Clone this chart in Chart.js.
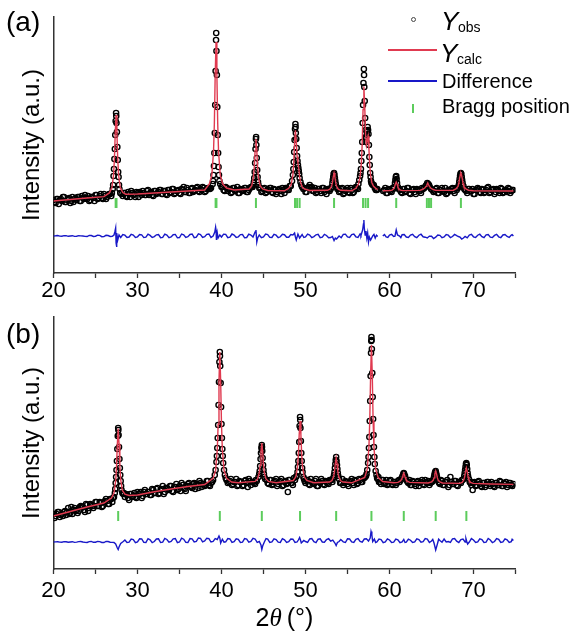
<!DOCTYPE html>
<html>
<head>
<meta charset="utf-8">
<script src="https://cdn.jsdelivr.net/npm/chart.js@4.4.1/dist/chart.umd.min.js"></script>
<style>
  html, body { margin: 0; padding: 0; background: #fff; }
  #wrap { position: relative; width: 580px; height: 632px; overflow: hidden;
          font-family: "Liberation Sans", Arial, Helvetica, sans-serif; color: #000; }
  canvas { position: absolute; left: 0; }
  #chartA { top: 0; }
  #chartB { top: 300px; }
  .t { position: absolute; white-space: nowrap; line-height: 1; }
  .mk { position: absolute; }
</style>
</head>
<body>
<div id="wrap">
  <canvas id="chartA" width="580" height="300"></canvas>
  <canvas id="chartB" width="580" height="332"></canvas>

  <div class="t" style="left:6px;top:8px;font-size:28px;">(a)</div>
  <div class="t" style="left:6px;top:320px;font-size:28px;">(b)</div>

  <!-- legend -->
  <div class="mk" style="left:411px;top:17px;width:5px;height:5px;box-sizing:border-box;border:1px solid #444;border-radius:50%;"></div>
  <div class="t" style="left:441px;top:8px;font-size:26px;font-style:italic;">Y</div>
  <div class="t" style="left:458px;top:20px;font-size:14px;">obs</div>

  <div class="mk" style="left:388px;top:49px;width:49px;height:1.5px;background:#e03a50;"></div>
  <div class="t" style="left:440px;top:40px;font-size:26px;font-style:italic;">Y</div>
  <div class="t" style="left:457px;top:51.5px;font-size:14px;">calc</div>

  <div class="mk" style="left:388px;top:80px;width:49px;height:1.5px;background:#1818c8;"></div>
  <div class="t" style="left:442px;top:71px;font-size:20px;">Difference</div>

  <div class="mk" style="left:412px;top:104px;width:2px;height:9px;background:#5ccc5c;"></div>
  <div class="t" style="left:442px;top:96px;font-size:20px;">Bragg position</div>

  <div class="t" style="left:0;width:569px;text-align:center;top:605px;font-size:25px;">2<i style="font-family:'Liberation Serif','DejaVu Serif',serif;">θ</i>&thinsp;(°)</div>
</div>

<script>
// ---- panel (a) ----
const obsA = [
  [20,73],[20.25,70],[20.5,74],[20.75,73],[21,72],[21.25,76],[21.5,71],[21.75,74],[22,70],[22.25,76],[22.5,74],[22.75,73],
  [23,76],[23.25,72],[23.5,75],[23.75,78],[24,74],[24.25,72],[24.5,76],[24.75,75],[25,78],[25.25,74],[25.5,77],[25.75,75],
  [26,79],[26.25,74],[26.5,78],[26.75,79],
  [26.95,80],[27.05,84],[27.1,88],[27.15,97],[27.2,104],[27.25,114],[27.3,124],[27.35,138],[27.4,152],[27.45,160],[27.47,157],
  [27.5,150],[27.55,141],[27.6,126],[27.65,113],[27.7,101],[27.75,96],[27.8,88],[27.85,84],[27.95,80],
  [28.1,79],[28.25,77],[28.5,80],[28.75,76],[29,79],[29.25,82],[29.5,78],[29.75,76],[30,80],[30.25,81],[30.5,78],[30.75,80],
  [31,78],[31.25,83],[31.5,80],[31.75,78],[32,82],[32.25,79],[32.5,81],[32.75,83],[33,79],[33.25,82],[33.5,78],[33.75,83],
  [34,81],[34.25,84],[34.5,80],[34.75,82],[35,80],[35.25,84],[35.5,86],[35.75,81],[36,83],[36.25,80],[36.5,85],[36.75,82],
  [37,85],[37.25,82],[37.5,84],[37.75,86],[38,81],[38.25,84],[38.5,85],[38.75,85],
  [38.95,89],[39,92],[39.05,98],[39.1,107],[39.15,120],[39.2,140],[39.25,168],[39.3,202],[39.35,233],[39.37,240],[39.4,222],
  [39.45,198],[39.5,166],[39.55,138],[39.6,120],[39.65,106],[39.7,98],[39.75,92],[39.85,89],
  [40,86],[40.25,83],[40.5,86],[40.75,82],[41,84],[41.25,81],[41.5,85],[41.75,83],[42,80],[42.25,84],[42.5,82],[42.75,85],
  [43,81],[43.25,83],[43.5,86],
  [43.7,86],[43.8,88],[43.85,91],[43.9,95],[43.95,101],[44,110],[44.05,124],[44.1,134],[44.12,136],[44.15,128],[44.2,115],
  [44.25,103],[44.3,96],[44.35,91],[44.4,88],[44.5,85],
  [44.75,81],[45,84],[45.25,80],[45.5,83],[45.75,85],[46,81],[46.25,84],[46.5,79],[46.75,83],[47,82],[47.25,85],[47.5,80],
  [47.75,84],[48,83],[48.25,87],
  [48.4,92],[48.5,98],[48.55,104],[48.6,111],[48.65,121],[48.7,133],[48.75,144],[48.8,149],[48.82,146],[48.85,140],[48.9,134],
  [48.95,125],[49,117],[49.05,112],[49.1,108],[49.15,105],[49.2,102],[49.25,99],[49.3,95],[49.4,91],[49.5,88],[49.6,86],
  [49.75,84],[50,81],[50.25,85],[50.5,88],[50.75,86],[51,82],[51.25,80],[51.5,84],[51.75,82],[52,85],[52.25,81],[52.5,79],[52.75,83],
  [53,84],[53.1,86],[53.2,90],[53.25,93],[53.3,96],[53.35,99],[53.4,100],[53.45,98],[53.5,95],[53.55,92],[53.6,89],[53.7,86],[53.8,84],
  [54,81],[54.25,84],[54.5,79],[54.75,82],[55,85],[55.25,80],[55.5,83],[55.75,81],[56,86],[56.25,84],
  [56.4,93],[56.5,97],[56.55,100],[56.6,104],[56.65,112],[56.7,120],[56.75,131],[56.8,150],[56.85,168],[56.9,190],[56.95,204],
  [56.97,198],[57,186],[57.05,172],[57.1,155],[57.15,143],[57.2,136],[57.25,131],[57.3,138],[57.35,142],[57.4,146],[57.45,143],
  [57.5,139],[57.55,128],[57.6,116],[57.65,108],[57.7,100],[57.75,96],[57.8,92],[57.85,90],
  [58,88],[58.25,85],[58.5,83],
  [59.25,82],[59.5,85],[59.75,80],[60,83],[60.25,81],
  [60.45,84],[60.55,86],[60.65,90],[60.7,93],[60.75,96],[60.8,97],[60.85,94],[60.9,90],[61,86],[61.1,84],
  [61.25,83],[61.5,80],[61.75,84],[62,82],[62.25,85],[62.5,79],[62.75,83],[63,81],[63.25,84],[63.5,82],[63.75,80],
  [64,84],[64.15,85],[64.3,87],[64.4,88],[64.5,90],[64.6,89],[64.7,88],[64.8,86],[64.95,84],[65.1,83],
  [65.25,81],[65.5,84],[65.75,80],[66,83],[66.25,85],[66.5,81],[66.75,79],[67,83],[67.25,82],[67.5,85],[67.75,80],[68,83],
  [68.15,85],[68.25,88],[68.3,91],[68.35,94],[68.4,97],[68.45,99],[68.5,100],[68.55,99],[68.6,96],[68.65,93],[68.7,90],[68.8,87],[68.9,84],
  [69,83],[69.25,80],[69.5,84],[69.75,82],[70,79],[70.25,83],[70.5,85],[70.75,81],[71,84],[71.25,80],[71.5,83],[71.75,86],
  [72,81],[72.25,83],[72.5,79],[72.75,84],[73,82],[73.25,85],[73.5,80],[73.75,83],[74,81],[74.25,84],[74.5,82],[74.75,83]
];

// in-between background readings of panel (a)
const obsA2 = [
  [20.125,71],[20.375,74],[20.625,69],[20.875,74],[21.125,76],[21.375,71],[21.625,73],[21.875,75],[22.125,72],[22.375,71],
  [22.625,75],[22.875,76],[23.125,72],[23.375,77],[23.625,74],[23.875,75],[24.125,77],[24.375,73],[24.625,76],[24.875,72],
  [25.125,78],[25.375,75],[25.625,79],[25.875,74],[26.125,77],[26.375,76],[26.625,79],[26.875,77],
  [28.375,80],[28.625,77],[28.875,81],[29.125,76],[29.375,80],[29.625,79],[29.875,81],[30.125,76],[30.375,80],[30.625,82],
  [30.875,78],[31.125,82],[31.375,78],[31.625,81],[31.875,77],[32.125,82],[32.375,80],[32.625,83],[32.875,79],[33.125,82],
  [33.375,79],[33.625,83],[33.875,80],[34.125,84],[34.375,79],[34.625,82],[34.875,83],[35.125,79],[35.375,83],[35.625,81],
  [35.875,85],[36.125,80],[36.375,84],[36.625,81],[36.875,83],[37.125,86],[37.375,81],[37.625,83],[37.875,85],[38.125,82],
  [38.375,85],[38.625,84],
  [40.125,86],[40.375,82],[40.625,85],[40.875,84],[41.125,80],[41.375,85],[41.625,82],[41.875,86],[42.125,80],[42.375,83],
  [42.625,83],[42.875,85],[43.125,81],[43.375,85],[43.625,86],
  [44.625,85],[44.875,82],[45.125,85],[45.375,81],[45.625,83],[45.875,85],[46.125,80],[46.375,83],[46.625,81],[46.875,84],
  [47.125,79],[47.375,83],[47.625,85],[47.875,83],[48.125,87],
  [49.875,85],[50.125,81],[50.375,86],[50.625,85],[50.875,82],[51.125,85],[51.375,81],[51.625,84],[51.875,80],[52.125,85],
  [52.375,83],[52.625,84],[52.875,82],
  [53.925,85],[54.125,82],[54.375,85],[54.625,80],[54.875,83],[55.125,81],[55.375,85],[55.625,80],[55.875,85],[56.125,85],[56.3,89],
  [57.925,89],[58.125,88],[58.375,83],[58.55,84],
  [59.375,83],[59.625,80],[59.875,84],[60.125,82],[60.375,85],
  [61.375,81],[61.625,84],[61.875,81],[62.125,85],[62.375,80],[62.625,83],[62.875,84],[63.125,79],[63.375,83],[63.625,82],[63.875,85],
  [65.375,82],[65.625,85],[65.875,80],[66.125,83],[66.375,82],[66.625,85],[66.875,80],[67.125,83],[67.375,84],[67.625,82],
  [67.875,85],[68.05,85],
  [69.125,82],[69.375,84],[69.625,82],[69.875,84],[70.125,79],[70.375,83],[70.625,84],[70.875,80],[71.125,83],[71.375,81],
  [71.625,85],[71.875,80],[72.125,83],[72.375,84],[72.625,81],[72.875,83],[73.125,80],[73.375,84],[73.625,81],[73.875,83],
  [74.125,85],[74.375,80],[74.625,83]
];

const calcA = [
  [20,72],[22,73.5],[24,75],[26,76.4],[26.65,80.1],[26.95,85.1],[27.15,98],[27.25,113.5],[27.35,140],[27.45,158],[27.55,140],
  [27.65,113.5],[27.75,98],[27.95,85.3],[28.25,80.5],[28.6,78.8],[30,79],[32,80],[34,81],[36,82],[38,83],
  [38.55,89],[38.85,97.8],[39.05,121.5],[39.15,149.6],[39.25,198.4],[39.35,231],[39.45,198.4],[39.55,149.6],[39.65,121.5],
  [39.85,97.8],[40.15,88.9],[40.6,85],[41.5,83],[43.3,84],[43.6,87.2],[43.8,95.5],[43.9,105.4],[44,122.6],[44.1,134],
  [44.2,122.6],[44.3,105.4],[44.4,95.5],[44.6,87.2],[44.9,84.1],[45.5,82.5],[47.5,82.2],
  [48,84.7],[48.3,88.5],[48.5,98.2],[48.6,109.7],[48.7,129.4],[48.8,142.8],[48.9,132],[49,116.5],[49.1,110],[49.2,104.3],
  [49.3,96.2],[49.4,91.3],[49.6,86],[49.9,84],[50.5,82.5],[52.6,82.7],[52.9,83.8],[53.1,86.7],[53.2,90.1],[53.3,96],
  [53.4,100],[53.5,96],[53.6,90.1],[53.7,86.7],[53.9,83.8],[54.2,82.7],[55.5,82.2],
  [56,84.7],[56.3,88.9],[56.5,96.2],[56.65,109.8],[56.75,129.3],[56.85,163.4],[56.95,186.5],[57.05,167.2],[57.15,138.7],
  [57.25,128.3],[57.35,133.1],[57.45,137],[57.55,124.1],[57.65,107.3],[57.75,97.7],[57.9,90.3],[58.1,86.7],[58.4,84.4],[58.6,83.5],
  [58.85,null],
  [59.2,82.3],[60,82.4],[60.3,82.9],[60.5,84.3],[60.6,86],[60.7,89],[60.8,91],[60.9,89],[61,86],[61.1,84.3],[61.3,82.9],[61.6,82.4],
  [63.6,82.6],[63.9,83.5],[64.2,85],[64.35,86.6],[64.45,88.2],[64.55,90],[64.65,88.2],[64.75,86.6],[64.9,85],[65.2,83.5],[65.5,82.6],
  [67.6,82.8],[67.9,84],[68.15,86.5],[68.25,89.5],[68.35,95],[68.45,99],[68.5,100],[68.55,99],[68.65,95],[68.75,89.5],
  [68.85,86.5],[69.1,84],[69.4,82.8],[70,82.3],[74.75,82]
];

const diffA = [
  [20,37],[20.5,37.5],[21,36.8],[21.5,37.3],[22,37],[22.5,36.6],[23,37.4],[23.5,37],[24,36.5],[24.5,37.5],[25,36.8],[25.5,37.6],
  [26,36.4],[26.5,37.5],[27,36.6],[27.2,38],[27.3,41],[27.4,45],[27.45,30],[27.5,26],[27.55,40],[27.65,33],[27.8,38],[28,35.5],
  [28.5,37.8],[29,36],[29.5,38],[30,36.2],[30.5,38.2],[31,35.8],[31.5,37.6],[32,36.4],[32.5,38.5],[33,35.6],[33.5,37.9],[34,36],
  [34.5,38.6],[35,35.5],[35.5,38.2],[36,36.3],[36.5,39],[37,35.8],[37.5,38.5],[38,36.4],[38.5,39],[39,37],[39.2,41],[39.3,46],
  [39.35,43],[39.4,33],[39.5,40],[39.6,35],[39.8,38],[40,36],[40.5,38.6],[41,35.8],[41.5,38],[42,36.2],[42.5,38.5],[43,35.5],
  [43.5,38],[44,41],[44.1,43],[44.2,31],[44.3,35],[44.5,38],[45,36],[45.5,38.4],[46,35.5],[46.5,37.8],[47,36.2],[47.5,38.3],
  [48,35.8],[48.5,38],[48.7,40],[48.8,36],[48.9,33],[49.1,39],[49.3,35],[49.6,38.5],[50,36],[50.5,38],[51,36.4],[51.5,38.6],
  [52,35.8],[52.5,37.5],[53,35.5],[53.4,32.5],[53.7,34],[54,37],[54.5,38.6],[55,36],[55.5,38.4],[56,36.2],[56.5,39],[56.8,43],
  [56.9,49],[56.95,53],[57,45],[57.1,38],[57.2,42],[57.3,35],[57.4,40],[57.5,31],[57.6,36],[57.75,33],[58,37],[58.3,35],[58.6,36.5],
  [58.85,null],
  [59.2,37],[59.6,36],[60,38],[60.5,36.5],[60.8,43],[60.95,38],[61.2,37],[61.5,38.3],[62,36],[62.5,38],[63,36.4],[63.5,37.8],
  [64,36.2],[64.5,35],[65,36.8],[65.5,35.8],[66,37.6],[66.5,36],[67,37.8],[67.5,36.5],[68,37.4],[68.4,35.8],[68.6,34],[68.8,35],
  [69,36.6],[69.5,38],[70,36.2],[70.5,37.8],[71,36.4],[71.5,38.2],[72,35.8],[72.5,37.6],[73,36.2],[73.5,38],[74,36.5],[74.5,37.9],[74.75,37]
];

// in-between difference readings of panel (a)
const diffA2 = [
  [20.25,37.2],[20.75,36.9],[21.25,37.4],[21.75,36.7],[22.25,37.3],[22.75,36.8],[23.25,37.1],[23.75,36.6],[24.25,37.6],[24.75,36.5],
  [25.25,37.8],[25.75,36.3],[26.25,37.7],[26.75,36.5],[28.25,38.5],[28.75,35.6],[29.25,38.6],[29.75,35.5],[30.25,38.4],[30.75,35.4],
  [31.25,38.8],[31.75,35.6],[32.25,38.2],[32.75,35.3],[33.25,38.9],[33.75,35.4],[34.25,38.3],[34.75,35.2],[35.25,39],[35.75,35.6],
  [36.25,38.5],[36.75,35.3],[37.25,39.2],[37.75,35.5],[38.25,38.7],[38.75,35.6],[40.25,38.8],[40.75,35.3],[41.25,39],[41.75,35.5],
  [42.25,38.4],[42.75,35.2],[43.25,38.8],[43.75,36],[44.75,35.4],[45.25,38.9],[45.75,35.6],[46.25,38.6],[46.75,35.3],[47.25,38.8],
  [47.75,35.7],[48.25,38.5],[49.8,35.5],[50.25,38.8],[50.75,35.4],[51.25,38.2],[51.75,35.3],[52.25,38.6],[52.75,35.2],[53.2,36.5],
  [53.55,35],[54.25,35.3],[54.75,38.8],[55.25,35.5],[55.75,38.9],[56.25,35.6],[56.6,37.5],[58.15,38.6],[58.45,37.8],[59.4,38.4],
  [59.8,35.6],[60.25,38.6],[60.65,36.8],[61.35,35.4],[61.75,38.5],[62.25,35.6],[62.75,38.7],[63.25,35.3],[63.75,38.8],[64.25,35.8],
  [64.75,36.9],[65.25,34.5],[65.75,37.9],[66.25,35.3],[66.75,38.5],[67.25,35.4],[67.75,38.6],[68.2,36.5],[69.25,35.2],[69.75,38.6],
  [70.25,35.5],[70.75,38.8],[71.25,35.3],[71.75,38.4],[72.25,35.6],[72.75,38.7],[73.25,35.4],[73.75,38.5],[74.25,35.6],[74.6,38.3]
];

const braggA = [27.4, 27.5, 39.3, 39.4, 44.1, 48.75, 49.0, 49.3, 53.4, 56.85, 57.15, 57.45, 60.8, 64.45, 64.7, 64.95, 68.5];
const braggRowA = 70;

// ---- panel (b) ----
const obsB = [
  [20,55],[20.25,53],[20.5,57],[20.75,52],[21,55],[21.25,57],[21.5,54],[21.75,61],[22,56],[22.25,55],[22.5,61],[22.75,59],
  [23,58],[23.25,63],[23.5,62],[23.75,57],[24,64],[24.25,61],[24.5,64],[24.75,61],[25,67],[25.25,63],[25.5,67],[25.75,62],
  [26,67],[26.25,70],[26.5,65],[26.75,70],[27,67],[27.2,72],
  [27.3,76],[27.35,80],[27.4,86],[27.45,92],[27.5,99],[27.55,108],[27.6,120],[27.65,133],[27.7,141],[27.72,139],[27.75,134],
  [27.8,122],[27.85,110],[27.9,101],[27.95,94],[28,88],[28.05,83],[28.1,79],[28.2,76],
  [28.3,75],[28.5,72],[28.75,74],[29,69],[29.25,75],[29.5,73],[29.75,72],[30,77],[30.25,75],[30.5,71],[30.75,77],[31,75],
  [31.25,77],[31.5,74],[31.75,80],[32,76],[32.25,80],[32.5,75],[32.75,79],[33,83],[33.25,77],[33.5,81],[33.75,79],[34,83],
  [34.25,77],[34.5,82],[34.75,79],[35,83],[35.25,86],[35.5,81],[35.75,78],[36,85],[36.25,83],[36.5,81],[36.75,86],[37,85],
  [37.25,81],[37.5,86],[37.75,85],[38,83],[38.25,88],[38.5,84],[38.75,86],[39,89],
  [39.2,94],[39.3,99],[39.4,107],[39.45,113],[39.5,121],[39.55,131],[39.6,144],[39.65,164],[39.7,187],[39.75,207],[39.8,217],
  [39.82,213],[39.85,203],[39.9,186],[39.95,162],[40,145],[40.05,131],[40.1,120],[40.15,113],[40.2,106],[40.3,99],[40.4,94],
  [40.6,89],[40.75,86],[41,88],[41.25,84],[41.5,87],[41.75,90],[42,84],[42.25,87],[42.5,83],[42.75,88],[43,86],[43.25,90],
  [43.5,84],[43.75,87],[44,85],[44.2,88],
  [44.4,92],[44.5,95],[44.55,98],[44.6,103],[44.65,110],[44.7,116],[44.75,121],[44.8,124],[44.82,122],[44.85,118],[44.9,111],
  [44.95,104],[45,99],[45.05,95],[45.1,92],[45.2,90],
  [45.5,86],[45.75,89],[46,84],[46.25,87],[46.5,90],[46.75,85],[47,88],[47.25,83],[47.5,87],[47.75,85],[47.9,77],[48,89],
  [48.25,86],[48.5,84],[48.75,89],
  [48.95,93],[49.05,97],[49.1,102],[49.15,108],[49.2,116],[49.25,127],[49.3,143],[49.35,152],[49.37,149],[49.4,141],[49.45,128],
  [49.5,116],[49.55,108],[49.6,101],[49.65,97],[49.75,92],
  [49.9,88],[50,86],[50.25,89],[50.5,84],[50.75,87],[51,85],[51.25,90],[51.5,83],[51.75,86],[52,88],[52.25,84],[52.5,87],
  [52.75,85],[53,89],[53.2,87],
  [53.3,91],[53.4,94],[53.45,97],[53.5,101],[53.55,105],[53.6,109],[53.65,112],[53.7,108],[53.75,104],[53.8,100],[53.85,96],
  [53.9,93],[54,90],
  [54.25,86],[54.5,84],[54.75,88],[55,85],[55.25,87],[55.5,90],[55.75,84],[56,88],[56.25,86],[56.5,89],[56.75,87],[57,91],[57.2,93],
  [57.35,99],[57.45,106],[57.5,112],[57.55,121],[57.6,132],[57.65,148],[57.7,168],[57.75,193],[57.8,216],[57.83,228],[57.85,232],
  [57.87,229],[57.9,220],[57.95,196],[58,172],[58.05,150],[58.1,134],[58.15,122],[58.2,112],[58.25,105],[58.35,98],[58.45,94],
  [58.6,90],[58.75,87],[59,85],[59.25,89],[59.5,86],[59.75,84],[60,88],[60.25,85],[60.5,87],[60.75,84],[61,88],[61.2,87],
  [61.35,89],[61.45,91],[61.55,93],[61.65,95],[61.7,96],[61.75,95],[61.85,93],[61.95,90],[62.1,88],
  [62.25,86],[62.5,84],[62.75,88],[63,85],[63.25,87],[63.5,83],[63.75,87],[64,85],[64.25,89],[64.5,86],[64.75,84],[65,88],
  [65.15,88],[65.25,90],[65.3,92],[65.35,94],[65.4,96],[65.45,97],[65.5,98],[65.55,96],[65.6,94],[65.65,92],[65.75,89],[65.85,87],
  [66,85],[66.25,88],[66.5,84],[66.75,87],[67,82],[67.25,92],[67.5,85],[67.75,88],[68,84],[68.25,87],[68.5,86],[68.7,89],
  [68.8,90],[68.9,93],[68.95,96],[69,99],[69.05,102],[69.1,105],[69.15,106],[69.2,104],[69.25,100],[69.3,96],[69.35,93],
  [69.45,90],[69.55,87],
  [69.75,84],[69.9,79],[70,86],[70.25,83],[70.5,87],[70.75,85],[71,82],[71.25,86],[71.5,84],[71.75,87],[72,83],[72.25,85],
  [72.5,82],[72.75,86],[73,84],[73.25,87],[73.5,83],[73.75,85],[74,82],[74.25,86],[74.5,84],[74.75,85]
];

// in-between background readings of panel (b)
const obsB2 = [
  [20.125,51],[20.375,55],[20.625,57],[20.875,54],[21.125,53],[21.375,58],[21.625,57],[21.875,55],[22.125,62],[22.375,59],
  [22.625,58],[22.875,56],[23.125,62],[23.375,62],[23.625,59],[23.875,65],[24.125,58],[24.375,65],[24.625,63],[24.875,63],
  [25.125,67],[25.375,63],[25.625,66],[25.875,63],[26.125,68],[26.375,68],[26.625,65],[26.875,70],[27.1,71],
  [28.375,76],[28.625,75],[28.875,71],[29.125,75],[29.375,72],[29.625,76],[29.875,71],[30.125,75],[30.375,77],[30.625,73],
  [30.875,79],[31.125,75],[31.375,77],[31.625,74],[31.875,79],[32.125,76],[32.375,81],[32.625,76],[32.875,80],[33.125,75],
  [33.375,81],[33.625,80],[33.875,83],[34.125,78],[34.375,82],[34.625,85],[34.875,80],[35.125,78],[35.375,84],[35.625,80],
  [35.875,83],[36.125,86],[36.375,82],[36.625,85],[36.875,80],[37.125,85],[37.375,88],[37.625,82],[37.875,85],[38.125,84],
  [38.375,88],[38.625,83],[38.875,87],
  [40.5,91],[40.875,87],[41.125,90],[41.375,85],[41.625,87],[41.875,83],[42.125,88],[42.375,87],[42.625,84],[42.875,89],
  [43.125,82],[43.375,88],[43.625,87],[43.875,86],[44.1,89],
  [45.375,89],[45.625,85],[45.875,89],[46.125,85],[46.375,88],[46.625,83],[46.875,87],[47.125,90],[47.375,84],[47.625,88],
  [47.875,86],[48.125,89],[48.375,86],[48.625,91],[48.85,92],
  [49.825,90],[50.125,89],[50.375,85],[50.625,90],[50.875,86],[51.125,88],[51.375,83],[51.625,87],[51.875,90],[52.125,85],
  [52.375,88],[52.625,86],[52.875,89],[53.125,89],
  [54.125,86],[54.375,90],[54.625,86],[54.875,87],[55.125,83],[55.375,88],[55.625,86],[55.875,89],[56.125,85],[56.375,90],
  [56.625,87],[56.875,91],[57.1,92],[57.275,95],
  [58.525,91],[58.675,92],[58.875,87],[59.125,89],[59.375,85],[59.625,89],[59.875,85],[60.125,89],[60.375,84],[60.625,87],
  [60.875,86],[61.125,89],
  [62.175,87],[62.375,89],[62.625,84],[62.875,87],[63.125,83],[63.375,88],[63.625,86],[63.875,89],[64.125,84],[64.375,87],
  [64.625,88],[64.875,86],[65.05,87],
  [65.925,86],[66.125,89],[66.375,84],[66.625,87],[66.875,89],[67.125,84],[67.375,87],[67.625,85],[67.875,88],[68.125,83],
  [68.375,87],[68.625,89],
  [69.65,86],[69.825,87],[70.125,87],[70.375,84],[70.625,88],[70.875,83],[71.125,86],[71.375,82],[71.625,87],[71.875,85],
  [72.125,87],[72.375,83],[72.625,86],[72.875,84],[73.125,88],[73.375,83],[73.625,86],[73.875,87],[74.125,84],[74.375,86],[74.625,83]
];

const calcB = [
  [20,53],[21,55.3],[22,57.5],[23,59.8],[24,62],[25,64],[26,66],[26.9,71],[27.2,76],[27.4,88],[27.5,101.6],[27.6,124.9],
  [27.7,140.5],[27.8,125.3],[27.9,102.4],[28,89.3],[28.2,78.5],[28.5,74.8],[29,73.5],[30,74],[32,77.3],[34,80],[36,82.5],[38,84.5],
  [39,90.6],[39.3,98.6],[39.5,119.6],[39.6,144.7],[39.7,188.1],[39.8,217],[39.9,188.1],[40,144.7],[40.1,119.6],[40.3,98.7],
  [40.6,90.8],[41.2,87],[42,86.2],[44,87.6],[44.3,90],[44.5,96.4],[44.6,104],[44.7,117.2],[44.8,126],[44.9,117.2],[45,104],
  [45.1,96.4],[45.3,90],[45.6,87.6],[46.5,86.2],[48.55,88.5],[48.85,92.2],[49.05,102.1],[49.15,113.9],[49.25,134.4],[49.35,148],
  [49.45,134.4],[49.55,113.9],[49.65,102.1],[49.85,92.2],[50.15,88.5],[51,86.3],[52.85,87],[53.15,88.5],[53.35,92.5],[53.45,97.3],
  [53.55,105.5],[53.65,111],[53.75,105.5],[53.85,97.3],[53.95,92.5],[54.15,88.5],[54.45,87],[55.5,86.2],
  [57.05,91.5],[57.35,99.8],[57.55,121.9],[57.65,148.1],[57.75,193.6],[57.85,224],[57.95,193.6],[58.05,148.1],[58.15,121.9],
  [58.35,99.8],[58.65,91.5],[59.2,87.5],[60.5,86.2],[61,86.6],[61.3,88],[61.45,89.8],[61.55,92],[61.6,93.8],[61.7,96],[61.8,93.8],
  [61.85,92],[61.95,89.8],[62.1,88],[62.4,86.6],[64.6,86],[65,87.2],[65.2,88.7],[65.3,91.1],[65.4,95.2],[65.5,98],[65.6,95.2],
  [65.7,91.1],[65.8,88.7],[66,87.2],[66.3,86],[68.35,85.6],[68.65,86.6],[68.85,89.2],[68.95,92.2],[69.05,97.5],[69.15,101],
  [69.25,97.5],[69.35,92.2],[69.45,89.2],[69.65,86.6],[69.95,85.6],[72,85],[74.75,84.6]
];

const diffB = [
  [20,27],[20.5,27.3],[21,26.8],[21.5,27.2],[22,27],[22.5,26.6],[23,27.4],[23.5,27],[24,26.5],[24.5,27.6],[25,26.8],[25.5,27.4],
  [26,26.5],[26.5,27.5],[27,26.6],[27.4,25],[27.6,21],[27.7,19.5],[27.8,22],[28,25.5],[28.3,27.5],[28.5,29],[29,26.8],[29.5,29.4],
  [30,27.2],[30.5,30],[31,26.5],[31.5,29.2],[32,27.5],[32.5,30.2],[33,26.8],[33.5,29.5],[34,27.6],[34.5,30.5],[35,27],[35.5,29.8],
  [36,26.5],[36.5,30.2],[37,27.6],[37.5,30.6],[38,28],[38.5,30.4],[39,27.5],[39.5,29.5],[39.7,33],[39.8,31],[39.9,26],[40.1,29.8],
  [40.5,27.2],[41,30],[41.5,27.4],[42,29.6],[42.5,26.8],[43,29.8],[43.5,27.5],[44,30],[44.5,27.5],[44.7,24],[44.8,19.5],[44.9,23],
  [45.1,27],[45.5,29.8],[46,27.2],[46.5,29.5],[47,26.6],[47.5,29.2],[48,27.4],[48.5,29.8],[49,27],[49.3,31.5],[49.4,29],[49.5,26],
  [49.8,28.5],[50,27.5],[50.5,30],[51,27.3],[51.5,29.8],[52,27],[52.5,29.5],[53,27.8],[53.5,26],[53.65,23.5],[53.8,26.5],[54.2,29.5],
  [54.5,27.2],[55,30.2],[55.5,27],[56,29.6],[56.5,27.5],[57,30],[57.5,28],[57.7,31],[57.8,37.5],[57.9,34],[58,27.5],[58.2,30],
  [58.5,27],[59,29.5],[59.5,27.2],[60,29],[60.5,26.8],[61,29.2],[61.5,27],[61.7,29.5],[62,26.8],[62.5,28.8],[63,27],[63.5,29.4],
  [64,27.4],[64.5,29.8],[65,28],[65.3,26],[65.5,19],[65.7,25],[66,28.5],[66.5,30],[67,27.5],[67.5,30.2],[68,27.8],[68.5,29.5],
  [69,27],[69.1,30.5],[69.2,27.5],[69.3,25],[69.5,27],[70,29],[70.5,27.2],[71,29.4],[71.5,26.8],[72,29],[72.5,27.5],[73,29.6],
  [73.5,27],[74,29.2],[74.5,27.4],[74.75,28.5]
];

// in-between difference readings of panel (b)
const diffB2 = [
  [20.25,27.1],[20.75,26.9],[21.25,27.4],[21.75,26.7],[22.25,27.3],[22.75,26.9],[23.25,27.5],[23.75,26.6],[24.25,27.4],[24.75,26.7],
  [25.25,27.6],[25.75,26.5],[26.25,27.6],[26.75,26.8],[27.2,26.5],[28.75,26.6],[29.25,30],[29.75,26.4],[30.25,30.2],[30.75,26.6],
  [31.25,30.4],[31.75,26.3],[32.25,30],[32.75,26.5],[33.25,30.6],[33.75,26.8],[34.25,30.2],[34.75,26.4],[35.25,30.8],[35.75,26.7],
  [36.25,30.4],[36.75,27],[37.25,31],[37.75,27.2],[38.25,30.8],[38.75,27],[39.25,30.4],[40.3,26.8],[40.75,30.4],[41.25,26.6],
  [41.75,30.2],[42.25,26.5],[42.75,30.4],[43.25,26.8],[43.75,30.6],[44.25,26.6],[45.3,30.3],[45.75,26.5],[46.25,30.2],[46.75,26.8],
  [47.25,30.4],[47.75,26.6],[48.25,30],[48.75,26.5],[49.15,29],[50.25,26.6],[50.75,30.4],[51.25,26.4],[51.75,30.2],[52.25,26.8],
  [52.75,30.3],[53.25,28.8],[54,27.5],[54.75,26.5],[55.25,30],[55.75,26.5],[56.25,30.4],[56.75,26.8],[57.25,30.2],[58.35,26.5],
  [58.75,30],[59.25,26.4],[59.75,30.2],[60.25,26.6],[60.75,30],[61.25,26.3],[61.85,26.5],[62.25,29.8],[62.75,26.5],[63.25,30.2],
  [63.75,26.8],[64.25,30.4],[64.75,26.5],[65.15,29.5],[65.85,29.8],[66.25,26.8],[66.75,27],[67.25,26.6],[67.75,30.5],[68.25,26.5],
  [68.75,30],[69.75,30.4],[70.25,26.5],[70.75,30.2],[71.25,26.6],[71.75,30.5],[72.25,26.3],[72.75,30.4],[73.25,26.5],[73.75,30.2],
  [74.25,26.6],[74.6,29.8]
];

const braggB = [27.7, 39.8, 44.8, 49.35, 53.65, 57.85, 61.7, 65.5, 69.15];
const braggRowB = 53;

const xTicks = [20, 30, 40, 50, 60, 70];

const FONT = "'Liberation Sans', Arial, Helvetica, sans-serif";
const RED = '#e03a50';
const BLUE = '#1818c8';
const GREEN = '#5ccc5c';
const AXIS = '#333';

function toPts(pairs) {
  return pairs.map(p => ({ x: p[0], y: p[1] }));
}

// merge two lists of readings into one, ordered along 2theta
function merged(a, b) {
  return a.concat(b).sort((p, q) => p[0] - q[0]);
}

function drawPanel(id, obs, calc, diff, bragg, braggRow, yMax, xAxisHeight, tickPad) {
  return new Chart(document.getElementById(id), {
    type: 'scatter',
    data: {
      datasets: [
        { label: 'Ycalc', data: toPts(calc), showLine: true, spanGaps: false,
          borderColor: RED, borderWidth: 1.4, pointRadius: 0, order: 1 },
        { label: 'Yobs', data: toPts(obs), showLine: false,
          pointStyle: 'circle', pointRadius: 2.6, pointHoverRadius: 2.6,
          pointBorderWidth: 1.4, pointBorderColor: '#000', pointBackgroundColor: 'rgba(255,255,255,0)', order: 2 },
        { label: 'Difference', data: toPts(diff), showLine: true, spanGaps: false,
          borderColor: BLUE, borderWidth: 1.4, pointRadius: 0, order: 1 },
        { label: 'Bragg position', data: bragg.map(x => ({ x: x, y: braggRow })), showLine: false,
          pointStyle: 'line', pointRotation: 90, pointRadius: 5, pointHoverRadius: 5,
          pointBorderColor: GREEN, pointBorderWidth: 2, order: 1 }
      ]
    },
    options: {
      responsive: false,
      animation: false,
      devicePixelRatio: 1,
      events: [],
      layout: { padding: { top: 17, right: 64.5, bottom: 0, left: 0 } },
      plugins: { legend: { display: false }, tooltip: { enabled: false } },
      scales: {
        x: {
          type: 'linear', min: 20, max: 75,
          afterFit: s => { s.height = xAxisHeight; },
          ticks: {
            stepSize: 5, autoSkip: false, maxRotation: 0, padding: tickPad, color: '#000',
            font: { family: FONT, size: 22, lineHeight: 1.2 },
            callback: v => (xTicks.includes(v) ? String(v) : '')
          },
          grid: { display: true, drawOnChartArea: false, drawTicks: true, tickLength: 5, tickColor: AXIS, tickWidth: 1.3 },
          border: { display: true, color: AXIS, width: 1.5 }
        },
        y: {
          min: 0, max: yMax,
          afterFit: s => { s.width = 53.5; },
          ticks: { display: false },
          grid: { display: false },
          border: { display: true, color: AXIS, width: 1.5 },
          title: {
            display: true, text: 'Intensity (a.u.)', color: '#000',
            font: { family: FONT, size: 24, lineHeight: 1.2 },
            padding: { top: 17.6, bottom: 0 }
          }
        }
      }
    }
  });
}

drawPanel('chartA', obsA.concat(obsA2), calcA, merged(diffA, diffA2), braggA, braggRowA, 256, 27, 0);
drawPanel('chartB', obsB.concat(obsB2), calcB, merged(diffB, diffB2), braggB, braggRowB, 252, 63, 4);
</script>
</body>
</html>
